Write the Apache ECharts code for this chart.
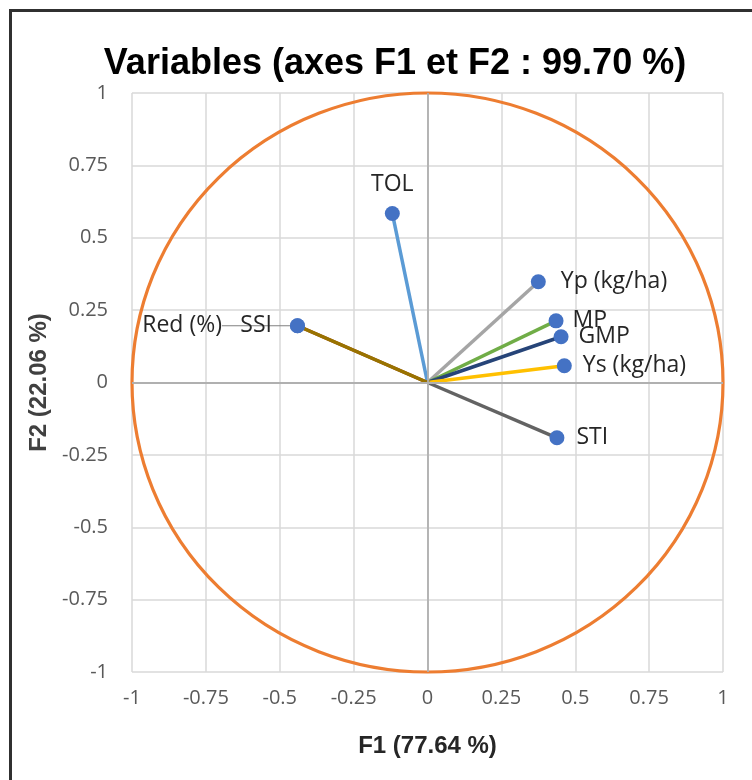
<!DOCTYPE html>
<html>
<head>
<meta charset="utf-8">
<script src="https://cdn.jsdelivr.net/npm/echarts@6/dist/echarts.min.js"></script>
<style>
html,body{margin:0;padding:0;background:#fff;}
#chart{width:752px;height:780px;}
</style>
</head>
<body>
<div id="chart"></div>
<script>
// ---- data ----
const varNames = ['TOL', 'Yp (kg/ha)', 'MP', 'GMP', 'Ys (kg/ha)', 'STI', 'Red (%)', 'SSI'];
const f1Values = [-0.119, 0.375, 0.435, 0.452, 0.463, 0.438, -0.440, -0.440];
const f2Values = [0.584, 0.348, 0.213, 0.158, 0.058, -0.191, 0.196, 0.196];
const lineColors = ['#5B9BD5', '#A5A5A5', '#70AD47', '#264478', '#FFC000', '#636363', '#9E480E', '#997300'];
const axisTicks = [-1, -0.75, -0.5, -0.25, 0, 0.25, 0.5, 0.75, 1];
const circleCenter = [0, 0];
const circleRadius = 1;
const titleText = 'Variables (axes F1 et F2 : 99.70 %)';
const xName = 'F1 (77.64 %)';
const yName = 'F2 (22.06 %)';

const FONT = '"Open Sans", "Liberation Sans", sans-serif';
const chart = echarts.init(document.getElementById('chart'), null, {renderer: 'canvas'});

const labelCfg = {
  'TOL': {position: 'top', distance: 10},
  'Yp (kg/ha)': {position: 'right', distance: 15},
  'MP': {position: 'right', distance: 9, offset: [0, -3]},
  'GMP': {position: 'right', distance: 10},
  'Ys (kg/ha)': {position: 'right', distance: 11},
  'STI': {position: 'right', distance: 12},
  'Red (%)': {position: 'left', distance: 14},
  'SSI': {position: 'left', distance: 18}
};

const series = [];
// correlation circle
series.push({
  type: 'custom',
  coordinateSystem: 'cartesian2d',
  silent: true,
  z: 1,
  data: [[circleCenter[0], circleCenter[1], circleRadius]],
  renderItem: function (params, api) {
    const c = api.coord([api.value(0), api.value(1)]);
    const s = api.size([api.value(2), api.value(2)]);
    const rx = s[0], ry = s[1];
    const d = 'M ' + (c[0] - rx) + ' ' + c[1] +
      ' A ' + rx + ' ' + ry + ' 0 1 0 ' + (c[0] + rx) + ' ' + c[1] +
      ' A ' + rx + ' ' + ry + ' 0 1 0 ' + (c[0] - rx) + ' ' + c[1] + ' Z';
    return {type: 'path', shape: {pathData: d}, style: {fill: 'none', stroke: '#ED7D31', lineWidth: 3.2}};
  },
  markLine: {
    silent: true,
    symbol: 'none',
    label: {show: false},
    lineStyle: {color: '#B0B0B0', width: 1.8, type: 'solid'},
    data: [{xAxis: 0}, {yAxis: 0}]
  }
});
// vectors
varNames.forEach(function (n, i) {
  series.push({
    type: 'line',
    name: n,
    z: 3,
    showSymbol: false,
    symbol: 'none',
    silent: true,
    lineStyle: {color: lineColors[i], width: 3.5},
    data: [[0, 0], [f1Values[i], f2Values[i]]]
  });
});
// points with labels
const redIndex = varNames.indexOf('Red (%)');
series.push({
  type: 'scatter',
  z: 5,
  symbolSize: 15,
  itemStyle: {color: '#4472C4', opacity: 1},
  label: {show: true, color: '#262626', fontSize: 23, fontFamily: FONT, formatter: function (p) { return p.name; }},
  labelLine: {show: false},
  labelLayout: function (p) {
    if (p.dataIndex === redIndex) { return {dx: -54}; }
    return {};
  },
  data: varNames.map(function (n, i) {
    const item = {name: n, value: [f1Values[i], f2Values[i]], label: labelCfg[n]};
    if (i === redIndex) {
      item.labelLine = {show: true, lineStyle: {color: '#808080', width: 1.2}};
    }
    return item;
  })
});

chart.setOption({
  animation: false,
  backgroundColor: '#fff',
  title: {
    text: titleText,
    left: 390,
    top: 41,
    textAlign: 'center',
    textStyle: {fontSize: 36, fontWeight: 'bold', color: '#000', fontFamily: '"Liberation Sans", Arial, sans-serif'}
  },
  graphic: [{
    type: 'rect', silent: true, z: 100,
    shape: {x: 10.5, y: 10.5, width: 800, height: 800},
    style: {fill: 'none', stroke: '#303030', lineWidth: 3}
  }],
  grid: {left: 132, right: 29, top: 93, bottom: 108, containLabel: false},
  xAxis: {
    type: 'value', min: -1, max: 1, interval: 0.25,
    axisLine: {show: false}, axisTick: {show: false},
    splitLine: {show: true, lineStyle: {color: '#D9D9D9', width: 1.5}},
    axisLabel: {color: '#595959', fontSize: 20, fontFamily: FONT, margin: 16,
      formatter: function (v) { return axisTicks.indexOf(v) >= 0 ? String(v) : ''; }},
    name: xName, nameLocation: 'middle', nameGap: 62,
    nameTextStyle: {fontSize: 24, fontWeight: 'bold', color: '#262626', fontFamily: '"Liberation Sans", Arial, sans-serif'}
  },
  yAxis: {
    type: 'value', min: -1, max: 1, interval: 0.25,
    axisLine: {show: false}, axisTick: {show: false},
    splitLine: {show: true, lineStyle: {color: '#D9D9D9', width: 1.5}},
    axisLabel: {color: '#595959', fontSize: 20, fontFamily: FONT, margin: 24,
      formatter: function (v) { return axisTicks.indexOf(v) >= 0 ? String(v) : ''; }},
    name: yName, nameLocation: 'middle', nameGap: 81, nameRotate: 90,
    nameTextStyle: {fontSize: 24, fontWeight: 'bold', color: '#404040', fontFamily: '"Liberation Sans", Arial, sans-serif'}
  },
  series: series
});
</script>
</body>
</html>
